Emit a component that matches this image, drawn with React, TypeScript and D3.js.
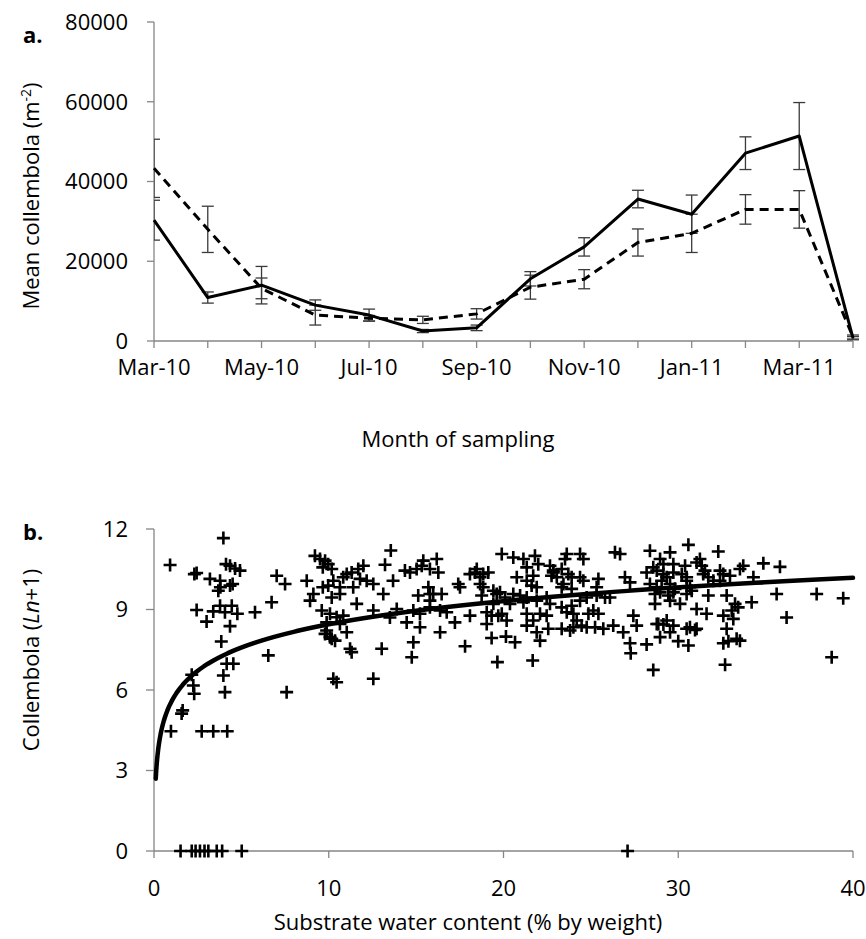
import React from "react";
import * as d3 from "d3";

// ---------- Panel a: monthly means ----------
const months = ["Mar-10","Apr-10","May-10","Jun-10","Jul-10","Aug-10","Sep-10","Oct-10","Nov-10","Dec-10","Jan-11","Feb-11","Mar-11","Apr-11"];
const monthLabels = ["Mar-10","May-10","Jul-10","Sep-10","Nov-10","Jan-11","Mar-11"];
const solidMean = [30300, 10900, 14000, 9000, 6500, 2500, 3300, 15600, 23600, 35600, 31800, 47100, 51400, 700];
const solidErr = [5000, 1400, 4700, 1300, 1500, 400, 700, 1800, 2300, 2200, 4800, 4100, 8400, 400];
const dashedMean = [43300, 28000, 13200, 6500, 5700, 5300, 6800, 13500, 15500, 24700, 27000, 33000, 33000, 1000];
const dashedErr = [7300, 5800, 2600, 2500, 700, 900, 1300, 3000, 2400, 3400, 4800, 3700, 4700, 500];
const yTicksA = [0, 20000, 40000, 60000, 80000];

// ---------- Panel b: water content vs collembola ----------
const xTicksB = [0, 10, 20, 30, 40];
const yTicksB = [0, 3, 6, 9, 12];
const trendA = 1.25; // y = a*ln(x) + b
const trendB = 5.57;
const trendRange = [0.1, 40];

const samples: [number, number][] = [
  [0.92,10.66],[3.97,11.66],[2.31,10.32],[2.44,10.36],[3.2,10.14],[3.78,10.07],[4.12,10.69],[4.35,10.63],[4.64,10.53],[4.92,10.45],
  [3.68,9.7],[3.8,9.83],[4.35,9.89],[4.5,9.95],[2.44,8.98],[3.39,8.93],[3.78,9.14],[4.06,8.9],[4.45,9.14],[4.77,8.84],[3.01,8.55],
  [4.35,8.38],[5.78,8.9],[6.73,9.27],[7.02,10.26],[7.5,9.95],[3.85,7.81],[6.54,7.29],[4.16,6.98],[4.54,6.98],[3.97,6.54],[2.16,6.57],
  [2.25,6.17],[4.06,5.92],[2.3,5.86],[7.59,5.92],[0.97,4.46],[2.73,4.46],[3.39,4.46],[4.19,4.46],[1.64,5.24],[1.58,5.12],
  [1.52,0],[2.16,0],[2.38,0],[2.63,0],[2.89,0],[3.11,0],[3.59,0],[3.9,0],[5.02,0],[27.1,0],
  [8.74,10.07],[9.21,11.0],[9.5,10.88],[9.79,10.82],[9.97,10.69],[10.17,10.51],[9.66,10.57],[9.66,9.83],[9.12,9.58],[8.93,9.33],
  [9.97,9.89],[10.26,10.07],[10.64,9.83],[10.83,10.2],[11.03,10.32],[11.31,10.38],[11.69,10.51],[11.98,10.63],[10.17,9.45],[10.64,9.58],
  [11.4,9.83],[11.79,10.14],[12.17,10.07],[12.55,9.95],[13.22,10.67],[13.55,11.2],[13.12,9.58],[13.68,10.07],[9.6,8.96],[10.07,8.84],
  [10.45,8.71],[10.83,8.77],[11.6,9.21],[12.55,8.96],[13.89,9.02],[13.5,8.7],[9.88,8.52],[10.64,8.46],[9.88,8.22],[10.17,7.91],
  [10.36,7.84],[11.03,8.15],[11.22,7.54],[11.31,7.41],[13.03,7.54],[10.26,6.42],[10.45,6.29],[12.55,6.42],[9.79,8.09],[10.07,7.97],
  [14.36,10.45],[14.65,10.38],[15.03,10.51],[15.32,10.63],[15.41,10.82],[15.79,10.51],[16.18,10.88],[16.27,10.38],[15.12,9.52],[15.7,9.83],
  [15.79,9.58],[15.98,9.58],[16.46,9.58],[15.79,9.33],[17.41,9.95],[17.51,9.83],[18.08,10.32],[18.37,10.38],[18.47,10.51],[18.66,10.2],
  [18.84,10.32],[19.13,10.38],[18.66,9.95],[18.84,9.83],[19.42,9.7],[19.61,9.58],[19.8,9.64],[18.75,9.52],
  [19.9,11.07],[20.56,10.94],[21.14,10.88],[21.8,11.0],[21.99,10.69],[21.33,10.57],[22.66,10.63],[22.85,10.45],[23.33,10.51],[23.52,10.88],
  [23.62,11.07],[24.38,11.07],[24.57,10.88],[23.71,10.32],[23.9,10.2],[24.38,10.2],[20.76,10.2],[21.33,10.07],[21.7,10.26],[21.9,9.83],
  [21.61,9.89],[22.75,10.26],[22.85,10.38],[23.05,10.2],[23.33,9.83],[23.43,9.95],[23.9,9.77],[24.57,10.07],[25.43,10.14],[25.33,9.83],
  [26.38,11.13],[26.95,10.2],[20.09,9.45],[20.56,9.58],[20.95,9.52],[21.33,9.45],[19.42,9.21],[20.37,9.21],[21.14,9.27],[21.9,9.33],
  [22.47,9.45],[22.66,9.21],[23.33,9.08],[23.9,9.14],[24.38,9.33],[24.76,9.45],[25.33,9.52],[25.81,9.45],[26.09,9.45],
  [14.84,8.96],[15.22,8.84],[15.79,9.08],[16.37,8.96],[16.75,8.9],[14.46,8.52],[15.22,8.34],[16.37,8.15],[17.22,8.52],[18.08,8.77],
  [19.04,8.9],[19.32,8.77],[19.7,8.77],[19.9,8.84],[20.18,8.59],[19.04,8.46],[21.33,8.84],[21.7,8.59],[22.09,8.84],[22.47,8.77],
  [23.62,8.9],[24.0,8.84],[24.19,8.59],[24.47,8.4],[24.86,8.84],[25.14,8.96],[25.43,8.84],[21.33,8.4],[21.9,8.15],[22.56,8.28],
  [23.33,8.28],[23.81,8.22],[24.0,8.34],[24.76,8.34],[25.24,8.34],[25.71,8.28],[26.28,8.4],[26.85,8.15],
  [14.84,7.78],[14.75,7.22],[17.8,7.63],[19.32,7.94],[20.14,7.99],[20.66,7.78],[19.65,7.04],[21.67,7.1],[22.09,7.84],
  [27.24,7.74],[27.28,7.37],[28.19,7.7],[28.96,7.97],[30.0,7.82],[30.58,7.66],[28.57,6.75],[27.62,8.4],[28.86,8.46],[29.15,8.44],
  [29.72,8.4],[30.48,8.28],[30.96,8.24],[29.53,8.15],[32.77,8.28],[32.58,7.74],[32.87,7.82],[33.34,7.91],[33.53,7.84],[32.68,6.94],
  [38.78,7.22],[36.2,8.7],
  [26.67,11.07],[28.38,11.19],[29.53,11.13],[30.58,11.41],[32.29,11.16],[28.96,10.88],[29.15,10.69],[28.57,10.57],[29.72,10.69],[30.39,10.63],
  [31.05,10.75],[31.24,10.88],[31.34,10.63],[31.53,10.45],[31.43,10.32],[33.53,10.51],[33.72,10.63],[34.87,10.72],[35.82,10.59],[27.24,10.01],
  [28.19,10.38],[28.77,10.45],[29.15,10.32],[29.34,10.2],[29.72,10.38],[30.2,10.32],[30.48,10.2],[28.38,9.95],[28.77,9.83],[29.05,10.07],
  [29.53,9.95],[29.81,9.77],[30.48,10.07],[30.67,9.83],[31.72,10.2],[32.01,10.07],[32.39,10.45],[32.58,10.32],[32.96,10.26],[34.3,10.2],
  [28.67,9.58],[28.96,9.64],[29.43,9.52],[29.72,9.64],[30.48,9.58],[30.77,9.7],[31.72,9.52],[32.39,10.07],[32.77,9.52],[33.25,9.21],
  [33.43,9.08],[34.2,9.27],[35.63,9.58],[37.92,9.58],[39.44,9.42],[28.67,9.21],[29.53,9.33],[30.1,9.21],[31.05,9.02],[31.62,8.84],
  [32.58,8.77],[33.06,8.96],[27.43,8.77],[28.77,8.46],[29.34,8.59],[30.67,8.34],[31.05,8.28],[33.15,8.65],
];

const FONT = "'Open Sans', 'Noto Sans', sans-serif";
const AXIS = "#868686";

export default function App() {
  const W = 866, H = 939;

  // Panel a scales
  const xA = d3.scalePoint<string>().domain(months).range([154, 853]);
  const yA = d3.scaleLinear().domain([0, 80000]).range([341, 22]);
  const lineA = (vals: number[]) =>
    d3.line<number>().x((_, i) => xA(months[i])!).y((d) => yA(d))(vals) || "";

  // Panel b scales
  const xB = d3.scaleLinear().domain([0, 40]).range([154, 853]);
  const yB = d3.scaleLinear().domain([0, 12]).range([851, 529]);
  const trendXs = d3.range(0, 401).map((i) => trendRange[0] * Math.pow(trendRange[1] / trendRange[0], i / 400));
  const trendPath = d3.line<number>().x((d) => xB(d)).y((d) => yB(trendA * Math.log(d) + trendB))(trendXs) || "";

  const errBars = (means: number[], errs: number[], key: string) =>
    means.map((m, i) => {
      const x = xA(months[i])!;
      const y1 = yA(m + errs[i]);
      const y2 = yA(m - errs[i]);
      return (
        <g key={key + i} stroke="#3a3a3a" strokeWidth={1.3}>
          <line x1={x} x2={x} y1={y1} y2={y2} />
          <line x1={x - 6} x2={x + 6} y1={y1} y2={y1} />
          <line x1={x - 6} x2={x + 6} y1={y2} y2={y2} />
        </g>
      );
    });

  return (
    <svg width={W} height={H} style={{ position: "absolute", left: 0, top: 0, background: "#fff" }} fontFamily={FONT}>
      <defs>
        <clipPath id="clipA">
          <rect x={154} y={0} width={720} height={360} />
        </clipPath>
      </defs>
      <rect x={0} y={0} width={W} height={H} fill="#fff" />

      {/* ---------- Panel a ---------- */}
      <text x={23} y={43} fontSize={22} fontWeight="bold" fill="#000">a.</text>
      {/* y axis */}
      <line x1={154} x2={154} y1={yA(80000)} y2={yA(0)} stroke={AXIS} strokeWidth={1.3} />
      {yTicksA.map((t) => (
        <g key={"ya" + t}>
          <line x1={147} x2={154} y1={yA(t)} y2={yA(t)} stroke={AXIS} strokeWidth={1.3} />
          <text x={128} y={yA(t)} dy="0.36em" textAnchor="end" fontSize={22} fill="#000">{t}</text>
        </g>
      ))}
      <text transform={`translate(39, 196) rotate(-90)`} textAnchor="middle" fontSize={22} fill="#000">
        <tspan>Mean collembola (m</tspan>
        <tspan dy={-8} fontSize={14}>-2</tspan>
        <tspan dy={8}>)</tspan>
      </text>
      {/* x axis */}
      <line x1={154} x2={853} y1={341} y2={341} stroke={AXIS} strokeWidth={1.3} />
      {months.map((m) => (
        <line key={"xt" + m} x1={xA(m)!} x2={xA(m)!} y1={341} y2={348} stroke={AXIS} strokeWidth={1.3} />
      ))}
      {monthLabels.map((m) => (
        <text key={"xl" + m} x={xA(m)!} y={375} textAnchor="middle" fontSize={22} fill="#000">{m}</text>
      ))}
      <text x={458} y={447} textAnchor="middle" fontSize={22} fill="#000">Month of sampling</text>

      <g clipPath="url(#clipA)">
        {errBars(dashedMean, dashedErr, "de")}
        {errBars(solidMean, solidErr, "se")}
      </g>
      <path d={lineA(dashedMean)} fill="none" stroke="#000" strokeWidth={3} strokeDasharray="9,6" />
      <path d={lineA(solidMean)} fill="none" stroke="#000" strokeWidth={3} strokeLinejoin="round" />

      {/* ---------- Panel b ---------- */}
      <text x={23} y={540} fontSize={22} fontWeight="bold" fill="#000">b.</text>
      <line x1={154} x2={154} y1={yB(12)} y2={yB(0)} stroke={AXIS} strokeWidth={1.3} />
      {yTicksB.map((t) => (
        <g key={"yb" + t}>
          <line x1={146} x2={154} y1={yB(t)} y2={yB(t)} stroke={AXIS} strokeWidth={1.3} />
          <text x={128} y={yB(t)} dy="0.36em" textAnchor="end" fontSize={22} fill="#000">{t}</text>
        </g>
      ))}
      <text transform={`translate(39, 660) rotate(-90)`} textAnchor="middle" fontSize={22} fill="#000">
        <tspan>Collembola (</tspan>
        <tspan fontStyle="italic">Ln</tspan>
        <tspan>+1)</tspan>
      </text>
      <line x1={154} x2={853} y1={851} y2={851} stroke={AXIS} strokeWidth={1.3} />
      {xTicksB.map((t) => (
        <g key={"xb" + t}>
          <line x1={xB(t)} x2={xB(t)} y1={851} y2={858} stroke={AXIS} strokeWidth={1.3} />
          <text x={xB(t)} y={896} textAnchor="middle" fontSize={22} fill="#000">{t}</text>
        </g>
      ))}
      <text x={468} y={930} textAnchor="middle" fontSize={22} fill="#000">Substrate water content (% by weight)</text>

      <g stroke="#000" strokeWidth={2.6} fill="none">
        {samples.map(([x, y], i) => (
          <path key={"p" + i} d={`M${xB(x) - 6.5},${yB(y)}H${xB(x) + 6.5}M${xB(x)},${yB(y) - 6.5}V${yB(y) + 6.5}`} />
        ))}
      </g>
      <path d={trendPath} fill="none" stroke="#000" strokeWidth={4.5} strokeLinecap="round" />
    </svg>
  );
}
